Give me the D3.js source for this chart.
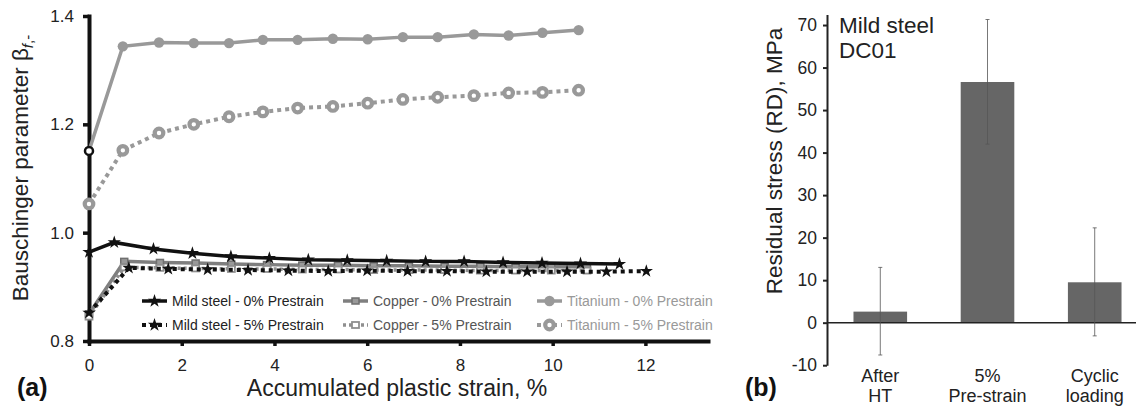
<!DOCTYPE html>
<html>
<head>
<meta charset="utf-8">
<script src="https://cdn.jsdelivr.net/npm/d3@7"></script>
<style>
  body { margin: 0; background: #fff; }
  svg { display: block; font-family: "Liberation Sans", Arial, sans-serif; }
</style>
</head>
<body>
<svg id="chart" width="1136" height="408"></svg>
<script>
// ---- panel (a) data: Bauschinger parameter vs accumulated plastic strain
const steel0X = [0, 0.545, 1.39, 2.23, 3.06, 3.89, 4.73, 5.57, 6.42, 7.26, 8.09, 8.93, 9.77, 10.6, 11.44];
const steel0Y = [0.964, 0.982, 0.970, 0.962, 0.956, 0.953, 0.950, 0.949, 0.948, 0.947, 0.947, 0.945, 0.944, 0.943, 0.942];
const steel5X = [0, 0.86, 1.71, 2.56, 3.43, 4.30, 5.16, 6.00, 6.87, 7.72, 8.57, 9.45, 10.31, 11.16, 12.02];
const steel5Y = [0.852, 0.935, 0.933, 0.932, 0.931, 0.930, 0.929, 0.930, 0.929, 0.929, 0.928, 0.928, 0.928, 0.928, 0.929];
const copperX = [0, 0.76, 1.53, 2.30, 3.07, 3.84, 4.60, 5.37, 6.14, 6.90, 7.67, 8.44, 9.20, 9.97, 10.74];
const copper0Y = [0.850, 0.947, 0.945, 0.944, 0.942, 0.941, 0.940, 0.940, 0.939, 0.939, 0.938, 0.938, 0.937, 0.937, 0.937];
const copper5Y = [0.845, 0.936, 0.935, 0.934, 0.933, 0.933, 0.932, 0.932, 0.931, 0.931, 0.931, 0.930, 0.930, 0.930, 0.930];
const titanX = [0, 0.73, 1.51, 2.26, 3.02, 3.75, 4.50, 5.26, 6.01, 6.77, 7.52, 8.30, 9.05, 9.78, 10.56];
const titan0Y = [1.151, 1.344, 1.351, 1.350, 1.350, 1.356, 1.356, 1.358, 1.357, 1.361, 1.361, 1.366, 1.364, 1.369, 1.374];
const titan5Y = [1.053, 1.152, 1.184, 1.200, 1.214, 1.223, 1.230, 1.233, 1.239, 1.246, 1.250, 1.253, 1.258, 1.259, 1.263];
const xTicksA = [0, 2, 4, 6, 8, 10, 12];
const yTicksA = [0.8, 1.0, 1.2, 1.4];

// ---- panel (b) data: residual stress
const categories = [["After", "HT"], ["5%", "Pre-strain"], ["Cyclic", "loading"]];
const stress = [2.6, 56.6, 9.5];
const stressHi = [13.0, 71.3, 22.3];
const stressLo = [-7.6, 42.0, -3.1];
const yTicksB = [-10, 0, 10, 20, 30, 40, 50, 60, 70];

const svg = d3.select("#chart");

// ================= panel (a)
const x = d3.scaleLinear().domain([0, 13.35]).range([89, 708]);
const y = d3.scaleLinear().domain([0.8, 1.4]).range([341, 16]);

const gA = svg.append("g");

const xAxis = gA.append("g")
    .attr("transform", "translate(0,341)")
    .call(d3.axisBottom(x).tickValues(xTicksA).tickSize(5).tickSizeOuter(0).tickPadding(13));
const yAxis = gA.append("g")
    .attr("transform", "translate(89,0)")
    .call(d3.axisLeft(y).tickValues(yTicksA).tickFormat(d3.format(".1f")).tickSize(6).tickSizeOuter(0).tickPadding(9));
[xAxis, yAxis].forEach(a => {
    a.select(".domain").attr("stroke", "#111").attr("stroke-width", 4).attr("stroke-linecap", "square");
    a.selectAll(".tick line").attr("stroke", "#111").attr("stroke-width", 3.5);
    a.selectAll(".tick text").attr("fill", "#222").style("font-size", "17px");
});

const series = [
    {name: "Copper - 0% Prestrain", xs: copperX, ys: copper0Y, color: "#7f7f7f", text: "#555", width: 3.5, dash: null, mark: "square"},
    {name: "Copper - 5% Prestrain", xs: copperX, ys: copper5Y, color: "#8f8f8f", text: "#555", width: 3.5, dash: "3,3", mark: "opensquare"},
    {name: "Mild steel - 0% Prestrain", xs: steel0X, ys: steel0Y, color: "#111", text: "#222", width: 3.5, dash: null, mark: "star"},
    {name: "Mild steel - 5% Prestrain", xs: steel5X, ys: steel5Y, color: "#111", text: "#222", width: 4, dash: "4,4", mark: "star"},
    {name: "Titanium - 0% Prestrain", xs: titanX, ys: titan0Y, color: "#999", text: "#999", width: 3.5, dash: null, mark: "dot"},
    {name: "Titanium - 5% Prestrain", xs: titanX, ys: titan5Y, color: "#999", text: "#999", width: 4, dash: "4,4", mark: "ring"}
];

const line = d3.line().x(d => x(d[0])).y(d => y(d[1]));

function drawMark(g, s, px, py, first) {
    if (s.mark === "star") {
        g.append("path").attr("d", d3.symbol(d3.symbolStar, 55)())
            .attr("transform", `translate(${px},${py})`).attr("fill", s.color);
    } else if (s.mark === "square") {
        g.append("rect").attr("x", px - 3.5).attr("y", py - 3).attr("width", 7).attr("height", 6)
            .attr("fill", "#999").attr("stroke", "#6f6f6f").attr("stroke-width", 1.5);
    } else if (s.mark === "opensquare") {
        g.append("rect").attr("x", px - 3.5).attr("y", py - 3).attr("width", 7).attr("height", 6)
            .attr("fill", "#fff").attr("stroke", s.color).attr("stroke-width", 1.8);
    } else if (s.mark === "dot") {
        g.append("circle").attr("cx", px).attr("cy", py).attr("r", first ? 4 : 5.2)
            .attr("fill", first ? "#fff" : s.color)
            .attr("stroke", first ? "#111" : "none").attr("stroke-width", 2.5);
    } else {
        g.append("circle").attr("cx", px).attr("cy", py).attr("r", 4.3)
            .attr("fill", "#fff").attr("stroke", s.color).attr("stroke-width", 4.2);
    }
}

// titanium first so steel sits on top of copper
[4, 5, 0, 1, 2, 3].forEach(k => {
    const s = series[k];
    const pts = s.xs.map((v, i) => [v, s.ys[i]]);
    const g = gA.append("g");
    g.append("path").attr("d", line(pts))
        .attr("fill", "none").attr("stroke", s.color).attr("stroke-width", s.width)
        .attr("stroke-dasharray", s.dash);
    pts.forEach((p, i) => drawMark(g, s, x(p[0]), y(p[1]), i === 0));
});

// legend: three columns, two rows
const legCols = [142, 343, 537];
const legRows = [301, 325];
const legOrder = [[2, 0, 4], [3, 1, 5]];
legOrder.forEach((row, r) => row.forEach((k, c) => {
    const s = series[k];
    const g = gA.append("g").attr("transform", `translate(${legCols[c]},${legRows[r]})`);
    g.append("line").attr("x1", 0).attr("x2", 25).attr("y1", 0).attr("y2", 0)
        .attr("stroke", s.color).attr("stroke-width", s.width).attr("stroke-dasharray", s.dash);
    drawMark(g, s, 12.5, 0, false);
    g.append("text").attr("x", 30).attr("y", 5).text(s.name)
        .attr("fill", s.text).style("font-size", "14px");
}));

// axis titles
gA.append("text").attr("x", 397).attr("y", 396).attr("text-anchor", "middle")
    .style("font-size", "23px").attr("fill", "#222").text("Accumulated plastic strain, %");
const yt = gA.append("text").attr("transform", "translate(28,168) rotate(-90)")
    .attr("text-anchor", "middle").style("font-size", "22.5px").attr("fill", "#222");
yt.append("tspan").text("Bauschinger parameter β");
yt.append("tspan").attr("dy", 5).style("font-size", "15px").style("font-style", "italic").text("f");
yt.append("tspan").style("font-size", "15px").text(",-");
gA.append("text").attr("x", 17).attr("y", 396).style("font-size", "25px")
    .style("font-weight", "bold").attr("fill", "#111").text("(a)");

// ================= panel (b)
const xb = d3.scaleBand().domain(categories.map(c => c.join(" "))).range([827, 1148])
    .paddingInner(0.5).paddingOuter(0.247);
const yb = d3.scaleLinear().domain([-10, 72.5]).range([365.2, 14.4]);

const gB = svg.append("g");
const yAxisB = gB.append("g").attr("transform", "translate(827,0)")
    .call(d3.axisLeft(yb).tickValues(yTicksB).tickFormat(d => String(d))
        .tickSize(4).tickSizeOuter(0).tickPadding(6));
yAxisB.select(".domain").attr("stroke", "#222").attr("stroke-width", 2);
yAxisB.selectAll(".tick line").attr("stroke", "#222").attr("stroke-width", 2);
yAxisB.selectAll(".tick text").attr("fill", "#222").style("font-size", "17.5px");

gB.selectAll("rect.bar").data(stress).join("rect").attr("class", "bar")
    .attr("x", (d, i) => xb(categories[i].join(" ")))
    .attr("width", xb.bandwidth())
    .attr("y", d => yb(Math.max(0, d)))
    .attr("height", d => Math.abs(yb(d) - yb(0)))
    .attr("fill", "#666");

gB.append("line").attr("x1", 827).attr("x2", 1136).attr("y1", yb(0)).attr("y2", yb(0))
    .attr("stroke", "#222").attr("stroke-width", 1.6);

stress.forEach((d, i) => {
    const cx = xb(categories[i].join(" ")) + xb.bandwidth() / 2;
    const g = gB.append("g").attr("stroke", "#555").attr("stroke-width", 0.8);
    g.append("line").attr("x1", cx).attr("x2", cx).attr("y1", yb(stressHi[i])).attr("y2", yb(stressLo[i]));
    g.append("line").attr("x1", cx - 2).attr("x2", cx + 2).attr("y1", yb(stressHi[i])).attr("y2", yb(stressHi[i]));
    g.append("line").attr("x1", cx - 2).attr("x2", cx + 2).attr("y1", yb(stressLo[i])).attr("y2", yb(stressLo[i]));
    const t = gB.append("text").attr("text-anchor", "middle").attr("fill", "#222").style("font-size", "18px");
    categories[i].forEach((w, j) => t.append("tspan").attr("x", cx).attr("y", 382 + j * 20).text(w));
});

gB.append("text").attr("x", 839).attr("y", 33).style("font-size", "22.5px").attr("fill", "#222").text("Mild steel");
gB.append("text").attr("x", 839).attr("y", 58).style("font-size", "22.5px").attr("fill", "#222").text("DC01");
gB.append("text").attr("transform", "translate(782,161) rotate(-90)").attr("text-anchor", "middle")
    .style("font-size", "22.5px").attr("fill", "#222").text("Residual stress (RD), MPa");
gB.append("text").attr("x", 745).attr("y", 396).style("font-size", "25px")
    .style("font-weight", "bold").attr("fill", "#111").text("(b)");
</script>
</body>
</html>
